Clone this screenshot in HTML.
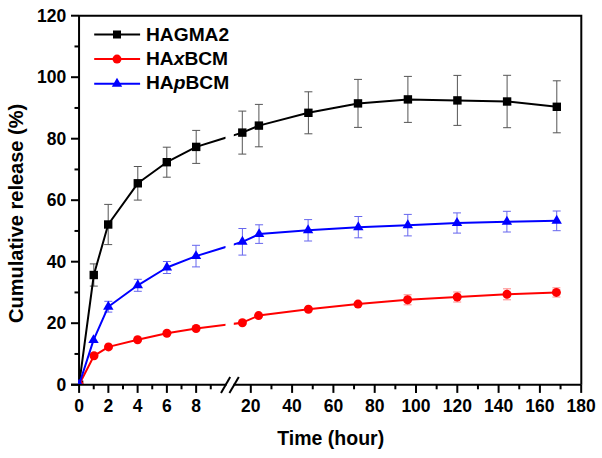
<!DOCTYPE html><html><head><meta charset="utf-8"><style>html,body{margin:0;padding:0;background:#fff;}svg{display:block;}text{font-family:"Liberation Sans",sans-serif;font-weight:bold;}</style></head><body><svg width="602" height="458" viewBox="0 0 602 458"><defs><clipPath id="c1"><rect x="0" y="0" width="225.5" height="458"/></clipPath><clipPath id="c2"><rect x="233.8" y="0" width="400" height="458"/></clipPath><clipPath id="pa"><rect x="78.0" y="0" width="520" height="384.0"/></clipPath></defs><g stroke="#000" stroke-width="2" fill="none"><path d="M79.05 15.7 H581.3 V384.7"/><path d="M79.05 15.7 V384.7"/><path d="M71 384.7 H226.5"/><path d="M233.5 384.7 H581.3"/></g><g stroke="#000" stroke-width="2"><line x1="71.0" y1="384.70" x2="79.05" y2="384.70"/><line x1="74.5" y1="353.95" x2="79.05" y2="353.95"/><line x1="71.0" y1="323.20" x2="79.05" y2="323.20"/><line x1="74.5" y1="292.45" x2="79.05" y2="292.45"/><line x1="71.0" y1="261.70" x2="79.05" y2="261.70"/><line x1="74.5" y1="230.95" x2="79.05" y2="230.95"/><line x1="71.0" y1="200.20" x2="79.05" y2="200.20"/><line x1="74.5" y1="169.45" x2="79.05" y2="169.45"/><line x1="71.0" y1="138.70" x2="79.05" y2="138.70"/><line x1="74.5" y1="107.95" x2="79.05" y2="107.95"/><line x1="71.0" y1="77.20" x2="79.05" y2="77.20"/><line x1="74.5" y1="46.45" x2="79.05" y2="46.45"/><line x1="71.0" y1="15.70" x2="79.05" y2="15.70"/><line x1="79.10" y1="384.7" x2="79.10" y2="392.9"/><line x1="93.73" y1="384.7" x2="93.73" y2="389.3"/><line x1="108.36" y1="384.7" x2="108.36" y2="392.9"/><line x1="122.99" y1="384.7" x2="122.99" y2="389.3"/><line x1="137.62" y1="384.7" x2="137.62" y2="392.9"/><line x1="152.25" y1="384.7" x2="152.25" y2="389.3"/><line x1="166.88" y1="384.7" x2="166.88" y2="392.9"/><line x1="181.51" y1="384.7" x2="181.51" y2="389.3"/><line x1="196.14" y1="384.7" x2="196.14" y2="392.9"/><line x1="210.77" y1="384.7" x2="210.77" y2="389.3"/><line x1="250.80" y1="384.7" x2="250.80" y2="392.9"/><line x1="271.45" y1="384.7" x2="271.45" y2="389.3"/><line x1="292.10" y1="384.7" x2="292.10" y2="392.9"/><line x1="312.75" y1="384.7" x2="312.75" y2="389.3"/><line x1="333.40" y1="384.7" x2="333.40" y2="392.9"/><line x1="354.05" y1="384.7" x2="354.05" y2="389.3"/><line x1="374.70" y1="384.7" x2="374.70" y2="392.9"/><line x1="395.35" y1="384.7" x2="395.35" y2="389.3"/><line x1="416.00" y1="384.7" x2="416.00" y2="392.9"/><line x1="436.65" y1="384.7" x2="436.65" y2="389.3"/><line x1="457.30" y1="384.7" x2="457.30" y2="392.9"/><line x1="477.95" y1="384.7" x2="477.95" y2="389.3"/><line x1="498.60" y1="384.7" x2="498.60" y2="392.9"/><line x1="519.25" y1="384.7" x2="519.25" y2="389.3"/><line x1="539.90" y1="384.7" x2="539.90" y2="392.9"/><line x1="560.55" y1="384.7" x2="560.55" y2="389.3"/><line x1="581.20" y1="384.7" x2="581.20" y2="392.9"/></g><g stroke="#000" stroke-width="2"><line x1="221.0" y1="392.9" x2="230.2" y2="377.0"/><line x1="229.4" y1="392.9" x2="238.8" y2="377.0"/></g><g font-size="17.5" text-anchor="end" fill="#000"><text x="66.3" y="390.50">0</text><text x="66.3" y="329.00">20</text><text x="66.3" y="267.50">40</text><text x="66.3" y="206.00">60</text><text x="66.3" y="144.50">80</text><text x="66.3" y="83.00">100</text><text x="66.3" y="21.50">120</text></g><g font-size="17.5" text-anchor="middle" fill="#000"><text x="79.10" y="411.6">0</text><text x="108.36" y="411.6">2</text><text x="137.62" y="411.6">4</text><text x="166.88" y="411.6">6</text><text x="196.14" y="411.6">8</text><text x="250.80" y="411.6">20</text><text x="292.10" y="411.6">40</text><text x="333.40" y="411.6">60</text><text x="374.70" y="411.6">80</text><text x="416.00" y="411.6">100</text><text x="457.30" y="411.6">120</text><text x="498.60" y="411.6">140</text><text x="539.90" y="411.6">160</text><text x="581.20" y="411.6">180</text></g><text x="330.7" y="444.9" font-size="19.5" text-anchor="middle">Time (hour)</text><text transform="translate(22.8 213.4) rotate(-90)" font-size="20.0" text-anchor="middle">Cumulative release (%)</text><g stroke="#555" stroke-width="1"><path d="M93.8 263.9 V286.1 M89.8 263.9 H97.8 M89.8 286.1 H97.8"/><path d="M108.2 204.4 V244.6 M104.2 204.4 H112.2 M104.2 244.6 H112.2"/><path d="M137.8 166.5 V200.1 M133.8 166.5 H141.8 M133.8 200.1 H141.8"/><path d="M166.8 147.2 V177.2 M162.8 147.2 H170.8 M162.8 177.2 H170.8"/><path d="M196.2 130.4 V163.4 M192.2 130.4 H200.2 M192.2 163.4 H200.2"/><path d="M242.3 111.1 V154.1 M238.3 111.1 H246.3 M238.3 154.1 H246.3"/><path d="M258.9 104.4 V146.8 M254.9 104.4 H262.9 M254.9 146.8 H262.9"/><path d="M308.4 91.8 V133.8 M304.4 91.8 H312.4 M304.4 133.8 H312.4"/><path d="M358.0 79.4 V127.4 M354.0 79.4 H362.0 M354.0 127.4 H362.0"/><path d="M407.9 76.4 V122.4 M403.9 76.4 H411.9 M403.9 122.4 H411.9"/><path d="M457.4 75.4 V125.4 M453.4 75.4 H461.4 M453.4 125.4 H461.4"/><path d="M507.1 75.3 V127.7 M503.1 75.3 H511.1 M503.1 127.7 H511.1"/><path d="M556.8 80.8 V132.8 M552.8 80.8 H560.8 M552.8 132.8 H560.8"/></g><g clip-path="url(#pa)"><path d="M79.1 384.7 L93.8 275.0 L108.2 224.5 L137.8 183.3 L166.8 162.2 L196.2 146.9 L242.3 132.6 L258.9 125.6 L308.4 112.8 L358.0 103.4 L407.9 99.4 L457.4 100.4 L507.1 101.5 L556.8 106.8" stroke="#000" stroke-width="2" fill="none" stroke-linejoin="round" clip-path="url(#c1)"/><path d="M79.1 384.7 L93.8 275.0 L108.2 224.5 L137.8 183.3 L166.8 162.2 L196.2 146.9 L242.3 132.6 L258.9 125.6 L308.4 112.8 L358.0 103.4 L407.9 99.4 L457.4 100.4 L507.1 101.5 L556.8 106.8" stroke="#000" stroke-width="2" fill="none" stroke-linejoin="round" clip-path="url(#c2)"/></g><g fill="#000" clip-path="url(#pa)"><rect x="74.90" y="380.50" width="8.4" height="8.4"/><rect x="89.55" y="270.80" width="8.4" height="8.4"/><rect x="104.00" y="220.30" width="8.4" height="8.4"/><rect x="133.60" y="179.10" width="8.4" height="8.4"/><rect x="162.60" y="158.00" width="8.4" height="8.4"/><rect x="192.00" y="142.70" width="8.4" height="8.4"/><rect x="238.10" y="128.40" width="8.4" height="8.4"/><rect x="254.70" y="121.40" width="8.4" height="8.4"/><rect x="304.20" y="108.60" width="8.4" height="8.4"/><rect x="353.80" y="99.20" width="8.4" height="8.4"/><rect x="403.70" y="95.20" width="8.4" height="8.4"/><rect x="453.20" y="96.20" width="8.4" height="8.4"/><rect x="502.90" y="97.30" width="8.4" height="8.4"/><rect x="552.60" y="102.60" width="8.4" height="8.4"/></g><g stroke="#f88" stroke-width="1"><path d="M407.6 294.8 V304.8 M403.6 294.8 H411.6 M403.6 304.8 H411.6"/><path d="M457.2 292.0 V302.0 M453.2 292.0 H461.2 M453.2 302.0 H461.2"/><path d="M507.0 288.8 V299.8 M503.0 288.8 H511.0 M503.0 299.8 H511.0"/><path d="M556.4 287.8 V297.0 M552.4 287.8 H560.4 M552.4 297.0 H560.4"/></g><g clip-path="url(#pa)"><path d="M79.1 384.7 L94.0 355.8 L108.5 346.9 L137.6 339.8 L166.9 333.3 L196.1 328.5 L242.4 322.7 L258.6 315.6 L308.4 309.3 L358.0 304.1 L407.6 299.8 L457.2 297.0 L507.0 294.3 L556.4 292.4" stroke="#f00" stroke-width="2" fill="none" stroke-linejoin="round" clip-path="url(#c1)"/><path d="M79.1 384.7 L94.0 355.8 L108.5 346.9 L137.6 339.8 L166.9 333.3 L196.1 328.5 L242.4 322.7 L258.6 315.6 L308.4 309.3 L358.0 304.1 L407.6 299.8 L457.2 297.0 L507.0 294.3 L556.4 292.4" stroke="#f00" stroke-width="2" fill="none" stroke-linejoin="round" clip-path="url(#c2)"/></g><g fill="#f00" clip-path="url(#pa)"><circle cx="79.1" cy="384.7" r="4.5"/><circle cx="94.0" cy="355.8" r="4.5"/><circle cx="108.5" cy="346.9" r="4.5"/><circle cx="137.6" cy="339.8" r="4.5"/><circle cx="166.9" cy="333.3" r="4.5"/><circle cx="196.1" cy="328.5" r="4.5"/><circle cx="242.4" cy="322.7" r="4.5"/><circle cx="258.6" cy="315.6" r="4.5"/><circle cx="308.4" cy="309.3" r="4.5"/><circle cx="358.0" cy="304.1" r="4.5"/><circle cx="407.6" cy="299.8" r="4.5"/><circle cx="457.2" cy="297.0" r="4.5"/><circle cx="507.0" cy="294.3" r="4.5"/><circle cx="556.4" cy="292.4" r="4.5"/></g><g stroke="#66e" stroke-width="1"><path d="M108.3 301.3 V312.1 M104.3 301.3 H112.3 M104.3 312.1 H112.3"/><path d="M137.8 279.3 V291.3 M133.8 279.3 H141.8 M133.8 291.3 H141.8"/><path d="M166.9 261.5 V273.5 M162.9 261.5 H170.9 M162.9 273.5 H170.9"/><path d="M196.0 245.3 V266.9 M192.0 245.3 H200.0 M192.0 266.9 H200.0"/><path d="M242.4 228.5 V255.1 M238.4 228.5 H246.4 M238.4 255.1 H246.4"/><path d="M259.1 224.8 V243.4 M255.1 224.8 H263.1 M255.1 243.4 H263.1"/><path d="M308.1 219.6 V241.0 M304.1 219.6 H312.1 M304.1 241.0 H312.1"/><path d="M358.3 216.5 V237.8 M354.3 216.5 H362.3 M354.3 237.8 H362.3"/><path d="M407.8 214.4 V235.9 M403.8 214.4 H411.8 M403.8 235.9 H411.8"/><path d="M457.0 212.9 V233.1 M453.0 212.9 H461.0 M453.0 233.1 H461.0"/><path d="M506.9 211.3 V232.0 M502.9 211.3 H510.9 M502.9 232.0 H510.9"/><path d="M556.7 211.0 V230.7 M552.7 211.0 H560.7 M552.7 230.7 H560.7"/></g><g clip-path="url(#pa)"><path d="M79.1 384.7 L93.5 340.1 L108.3 306.7 L137.8 285.3 L166.9 267.5 L196.0 256.1 L242.4 241.8 L259.1 234.1 L308.1 230.3 L358.3 227.2 L407.8 225.2 L457.0 223.0 L506.9 221.7 L556.7 220.8" stroke="#00f" stroke-width="2" fill="none" stroke-linejoin="round" clip-path="url(#c1)"/><path d="M79.1 384.7 L93.5 340.1 L108.3 306.7 L137.8 285.3 L166.9 267.5 L196.0 256.1 L242.4 241.8 L259.1 234.1 L308.1 230.3 L358.3 227.2 L407.8 225.2 L457.0 223.0 L506.9 221.7 L556.7 220.8" stroke="#00f" stroke-width="2" fill="none" stroke-linejoin="round" clip-path="url(#c2)"/></g><g fill="#00f" clip-path="url(#pa)"><path d="M79.10 378.77 L84.30 387.67 L73.90 387.67 Z"/><path d="M93.50 334.17 L98.70 343.07 L88.30 343.07 Z"/><path d="M108.30 300.77 L113.50 309.67 L103.10 309.67 Z"/><path d="M137.80 279.37 L143.00 288.27 L132.60 288.27 Z"/><path d="M166.90 261.57 L172.10 270.47 L161.70 270.47 Z"/><path d="M196.00 250.17 L201.20 259.07 L190.80 259.07 Z"/><path d="M242.40 235.87 L247.60 244.77 L237.20 244.77 Z"/><path d="M259.10 228.17 L264.30 237.07 L253.90 237.07 Z"/><path d="M308.10 224.37 L313.30 233.27 L302.90 233.27 Z"/><path d="M358.30 221.27 L363.50 230.17 L353.10 230.17 Z"/><path d="M407.80 219.27 L413.00 228.17 L402.60 228.17 Z"/><path d="M457.00 217.07 L462.20 225.97 L451.80 225.97 Z"/><path d="M506.90 215.77 L512.10 224.67 L501.70 224.67 Z"/><path d="M556.70 214.87 L561.90 223.77 L551.50 223.77 Z"/></g><g stroke-width="2"><line x1="94.2" y1="34.5" x2="140.1" y2="34.5" stroke="#000"/><line x1="94.2" y1="59.1" x2="140.1" y2="59.1" stroke="#f00"/><line x1="94.2" y1="83.8" x2="140.1" y2="83.8" stroke="#00f"/></g><rect x="113" y="30.5" width="8" height="8" fill="#000"/><circle cx="117" cy="59.1" r="4.5" fill="#f00"/><path fill="#00f" d="M117.00 77.87 L122.20 86.77 L111.80 86.77 Z"/><g font-size="19.2" fill="#000"><text x="146" y="41.1">HAGMA2</text><text x="146" y="65.2">HA<tspan font-style="italic">x</tspan>BCM</text><text x="146" y="89.2">HA<tspan font-style="italic">p</tspan>BCM</text></g></svg></body></html>
